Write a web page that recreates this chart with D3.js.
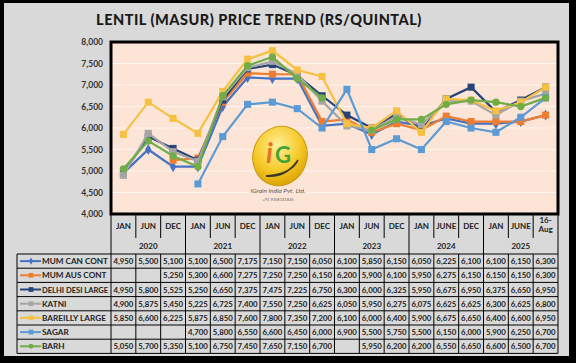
<!DOCTYPE html>
<html>
<head>
<meta charset="utf-8">
<script src="https://cdn.jsdelivr.net/npm/d3@7"></script>
<style>
body { margin: 0; background: #000; }
text { font-family: Lato, "Open Sans", sans-serif; }
</style>
</head>
<body>
<script>
var width = 576;
var height = 363;

// categories
var months = ["JAN","JUN","DEC","JAN","JUN","DEC","JAN","JUN","DEC","JAN","JUN","DEC","JAN","JUNE","DEC","JAN","JUNE","16-Aug"];
var years = ["2020","2021","2022","2023","2024","2025"];

// series values (Rs/quintal), null = no quote
var mumCan   = [4950,5500,5100,5100,6500,7175,7150,7150,6050,6100,5850,6150,6050,6225,6100,6100,6150,6300];
var mumAus   = [null,null,5250,5300,6600,7275,7250,7250,6150,6200,5900,6100,5950,6275,6150,6150,6150,6300];
var delhi    = [4950,5800,5525,5250,6650,7375,7475,7225,6750,6300,6000,6325,5950,6675,6950,6375,6650,6950];
var katni    = [4900,5875,5450,5225,6725,7400,7550,7250,6625,6050,5950,6275,6075,6625,6625,6300,6625,6800];
var bareilly = [5850,6600,6225,5875,6850,7600,7800,7350,7200,6100,6000,6400,5900,6675,6650,6400,6600,6950];
var sagar    = [null,null,null,4700,5800,6550,6600,6450,6000,6900,5500,5750,5500,6150,6000,5900,6250,6700];
var barh     = [5050,5700,5350,5100,6750,7450,7650,7150,6700,null,5950,6200,6200,6550,6650,6600,6500,6700];

var yTicks = [4000,4500,5000,5500,6000,6500,7000,7500,8000];

var series = [
	{name: "MUM CAN CONT", values: mumCan, color: "#4472C4", shape: "diamond"},
	{name: "MUM AUS CONT", values: mumAus, color: "#ED7D31", shape: "square"},
	{name: "DELHI DESI LARGE", values: delhi, color: "#264478", shape: "square"},
	{name: "KATNI", values: katni, color: "#A5A5A5", shape: "square"},
	{name: "BAREILLY LARGE", values: bareilly, color: "#F6C143", shape: "square"},
	{name: "SAGAR", values: sagar, color: "#5B9BD5", shape: "square"},
	{name: "BARH", values: barh, color: "#70AD47", shape: "circle"}
];

var plot = {left: 111, right: 558, top: 42, bottom: 214};
var tableLeft = 17;
var rowTop = 254;
var rowH = 14.2;

var svg = d3.select("body")
			.append("svg")
			.attr("width", width)
			.attr("height", height);

// outer frame
svg.append("rect").attr("width", width).attr("height", height).attr("fill", "#000");
svg.append("rect").attr("x", 4).attr("y", 3).attr("width", 565).attr("height", 353).attr("fill", "#D9D9D9");

svg.append("text")
	.attr("x", 259).attr("y", 25)
	.attr("text-anchor", "middle")
	.attr("font-size", 14.5).attr("font-weight", 900)
	.attr("letter-spacing", 0.5)
	.attr("fill", "#1a1a1a")
	.text("LENTIL (MASUR) PRICE TREND (RS/QUINTAL)");

var x = d3.scaleBand().domain(d3.range(months.length)).range([plot.left, plot.right]);
var bw = x.bandwidth();
function cx(i){ return x(i) + bw/2; }
var y = d3.scaleLinear().domain([4000, 8000]).range([plot.bottom, plot.top]);

// plot area
svg.append("rect")
	.attr("x", plot.left).attr("y", plot.top)
	.attr("width", plot.right - plot.left).attr("height", plot.bottom - plot.top)
	.attr("fill", "#FCE5D7");

svg.append("g")
	.selectAll("line")
	.data(yTicks.slice(1, -1))
	.enter().append("line")
		.attr("x1", plot.left).attr("x2", plot.right)
		.attr("y1", function(d){ return y(d); })
		.attr("y2", function(d){ return y(d); })
		.attr("stroke", "#FFF4EE").attr("stroke-width", 1);

var yAxis = svg.append("g")
	.attr("transform", "translate(" + plot.left + ",0)")
	.call(d3.axisLeft(y).tickValues(yTicks).tickFormat(d3.format(",")).tickSize(0).tickPadding(8));
yAxis.select(".domain").remove();
yAxis.selectAll("text").attr("font-size", 8.5).attr("font-weight", 700).attr("font-family", "Lato, sans-serif").attr("fill", "#333");

// logo (watermark)
var logo = svg.append("g").attr("transform", "translate(280,156)");
var defs = svg.append("defs");
var grad = defs.append("radialGradient").attr("id", "gold").attr("cx", "40%").attr("cy", "35%").attr("r", "70%");
grad.append("stop").attr("offset", "0%").attr("stop-color", "#FFF09A");
grad.append("stop").attr("offset", "60%").attr("stop-color", "#F6C928");
grad.append("stop").attr("offset", "100%").attr("stop-color", "#D9A000");
logo.append("ellipse").attr("rx", 27).attr("ry", 30).attr("transform", "rotate(18)")
	.attr("fill", "url(#gold)").attr("stroke", "#C99A10").attr("stroke-width", 1);
logo.append("text").attr("x", -14).attr("y", 7).attr("font-size", 28).attr("font-weight", 700)
	.attr("font-style", "italic").attr("fill", "#E8731E").text("i");
logo.append("text").attr("x", -5).attr("y", 7).attr("font-size", 22).attr("font-weight", 700)
	.attr("fill", "#3FA535").text("G");
logo.append("path").attr("d", "M-14,20 Q6,22 18,4 Q12,18 -14,20 Z")
	.attr("fill", "#3a3a2a").attr("stroke", "#3a3a2a").attr("stroke-width", 1.5);
logo.append("text").attr("x", -2).attr("y", 37).attr("text-anchor", "middle").attr("font-size", 6.5)
	.attr("font-family", "'Liberation Serif', serif").attr("font-style", "italic").attr("fill", "#555")
	.text("IGrain India Pvt. Ltd.");
logo.append("text").attr("x", -2).attr("y", 45).attr("text-anchor", "middle").attr("font-size", 4)
	.attr("font-family", "'Liberation Serif', serif").attr("fill", "#666")
	.text("+91 9358141825");

// lines
var line = d3.line()
	.defined(function(d){ return d != null; })
	.x(function(d, i){ return cx(i); })
	.y(function(d){ return y(d); });

function symbolFor(shape, big){
	var k = big ? 1 : 0.45;
	if (shape == "diamond") return d3.symbol().type(d3.symbolDiamond).size(34*k)();
	if (shape == "circle") return d3.symbol().type(d3.symbolCircle).size(42*k)();
	return d3.symbol().type(d3.symbolSquare).size(50*k)();
}

var lines = svg.append("g");
series.forEach(function(s){
	var g = lines.append("g");
	g.append("path")
		.datum(s.values)
		.attr("fill", "none")
		.attr("stroke", s.color)
		.attr("stroke-width", 2.2)
		.attr("d", line);
	g.selectAll("path.mk")
		.data(s.values.map(function(v, i){ return {v: v, i: i}; }).filter(function(d){ return d.v != null; }))
		.enter().append("path")
			.classed("mk", true)
			.attr("transform", function(d){ return "translate(" + cx(d.i) + "," + y(d.v) + ")"; })
			.attr("d", symbolFor(s.shape, true))
			.attr("fill", s.color);
});

// plot border
svg.append("rect")
	.attr("x", plot.left).attr("y", plot.top)
	.attr("width", plot.right - plot.left).attr("height", plot.bottom - plot.top)
	.attr("fill", "none").attr("stroke", "#000").attr("stroke-width", 3);

// category header
var hdr = svg.append("g");
hdr.selectAll("text.m")
	.data(months)
	.enter().append("text")
		.attr("x", function(d, i){ return cx(i); })
		.attr("y", function(d){ return d == "16-Aug" ? 223 : 229; })
		.attr("text-anchor", "middle")
		.attr("font-size", 8).attr("font-weight", 700).attr("fill", "#222")
		.text(function(d){ return d == "16-Aug" ? "16-" : d; });
hdr.append("text")
	.attr("x", cx(months.length - 1)).attr("y", 232)
	.attr("text-anchor", "middle")
	.attr("font-size", 8).attr("font-weight", 700).attr("fill", "#222")
	.text("Aug");
hdr.selectAll("text.y")
	.data(years)
	.enter().append("text")
		.attr("x", function(d, i){ return cx(i*3 + 1); })
		.attr("y", 249)
		.attr("text-anchor", "middle")
		.attr("font-size", 8).attr("font-weight", 700).attr("fill", "#222")
		.text(function(d){ return d; });

// grid of the header and table
var grid = svg.append("g").attr("stroke", "#000").attr("stroke-width", 1);
d3.range(months.length + 1).forEach(function(i){
	var xx = plot.left + i*bw;
	var bottom = (i % 3 == 0) ? rowTop : 238;
	grid.append("line").attr("x1", xx).attr("x2", xx).attr("y1", plot.bottom).attr("y2", bottom);
	grid.append("line").attr("x1", xx).attr("x2", xx).attr("y1", rowTop).attr("y2", rowTop + rowH*series.length);
});
grid.append("line").attr("x1", tableLeft).attr("x2", tableLeft).attr("y1", rowTop).attr("y2", rowTop + rowH*series.length);
d3.range(series.length + 1).forEach(function(r){
	var yy = rowTop + r*rowH;
	grid.append("line").attr("x1", tableLeft).attr("x2", plot.right).attr("y1", yy).attr("y2", yy);
});

// table rows
var fmt = d3.format(",");
series.forEach(function(s, r){
	var yc = rowTop + r*rowH + rowH/2;
	svg.append("line").attr("x1", 20).attr("x2", 41).attr("y1", yc).attr("y2", yc)
		.attr("stroke", s.color).attr("stroke-width", 2);
	svg.append("path").attr("transform", "translate(31," + yc + ")")
		.attr("d", symbolFor(s.shape, false))
		.attr("fill", s.color);
	var lbl = svg.append("text").attr("x", 42).attr("y", yc + 3)
		.attr("font-size", 8.2).attr("font-weight", 700).attr("fill", "#222")
		.text(s.name);
	if (lbl.node().getComputedTextLength() > 66) {
		lbl.attr("textLength", 66).attr("lengthAdjust", "spacingAndGlyphs");
	}
	s.values.forEach(function(v, i){
		if (v == null) return;
		svg.append("text").attr("x", cx(i)).attr("y", yc + 3)
			.attr("text-anchor", "middle")
			.attr("font-size", 7.8).attr("font-weight", 700).attr("fill", "#222")
			.text(fmt(v));
	});
});
</script>
</body>
</html>
